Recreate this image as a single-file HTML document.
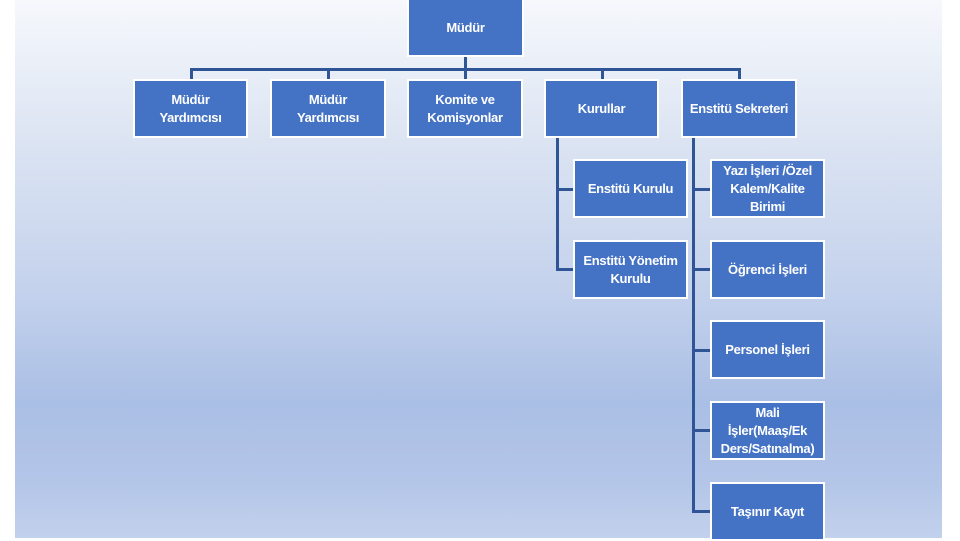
<!DOCTYPE html>
<html><head><meta charset="utf-8"><style>
body{margin:0;width:960px;height:540px;background:#fff;position:relative;overflow:hidden;font-family:"Liberation Sans",sans-serif}
#bg{position:absolute;left:15px;top:0;width:927px;height:538px;background:linear-gradient(to bottom,#f6f8fc 0%,#dde5f3 25%,#c3d1ec 55%,#aabfe5 75%,#b4c6e8 90%,#c2d1ec 100%)}
.b{position:absolute;box-sizing:border-box;background:#4472c4;border:2px solid #fff;color:#fff;font-weight:bold;font-size:13px;line-height:18px;display:flex;align-items:center;justify-content:center;text-align:center;letter-spacing:-0.3px}
.l{position:absolute;background:#2f5597}
</style></head><body>
<div id="bg"></div>
<div class="l" style="left:464px;top:55px;width:3px;height:26px"></div>
<div class="l" style="left:190px;top:68px;width:551px;height:3px"></div>
<div class="l" style="left:190px;top:68px;width:3px;height:13px"></div>
<div class="l" style="left:327px;top:68px;width:3px;height:13px"></div>
<div class="l" style="left:601px;top:68px;width:3px;height:13px"></div>
<div class="l" style="left:738px;top:68px;width:3px;height:13px"></div>
<div class="l" style="left:556px;top:136px;width:3px;height:135px"></div>
<div class="l" style="left:556px;top:188px;width:20px;height:3px"></div>
<div class="l" style="left:556px;top:268px;width:20px;height:3px"></div>
<div class="l" style="left:692px;top:136px;width:3px;height:377px"></div>
<div class="l" style="left:692px;top:188px;width:20px;height:3px"></div>
<div class="l" style="left:692px;top:268px;width:20px;height:3px"></div>
<div class="l" style="left:692px;top:349px;width:20px;height:3px"></div>
<div class="l" style="left:692px;top:429px;width:20px;height:3px"></div>
<div class="l" style="left:692px;top:510px;width:20px;height:3px"></div>
<div class="b" style="left:407px;top:-2px;width:117px;height:59px">Müdür</div>
<div class="b" style="left:133px;top:79px;width:115px;height:59px">Müdür<br>Yardımcısı</div>
<div class="b" style="left:270px;top:79px;width:116px;height:59px">Müdür<br>Yardımcısı</div>
<div class="b" style="left:407px;top:79px;width:116px;height:59px">Komite ve<br>Komisyonlar</div>
<div class="b" style="left:544px;top:79px;width:115px;height:59px">Kurullar</div>
<div class="b" style="left:681px;top:79px;width:116px;height:59px">Enstitü Sekreteri</div>
<div class="b" style="left:573px;top:159px;width:115px;height:59px">Enstitü Kurulu</div>
<div class="b" style="left:573px;top:240px;width:115px;height:59px">Enstitü Yönetim<br>Kurulu</div>
<div class="b" style="left:710px;top:159px;width:115px;height:59px">Yazı İşleri /Özel<br>Kalem/Kalite<br>Birimi</div>
<div class="b" style="left:710px;top:240px;width:115px;height:59px">Öğrenci İşleri</div>
<div class="b" style="left:710px;top:320px;width:115px;height:59px">Personel İşleri</div>
<div class="b" style="left:710px;top:401px;width:115px;height:59px">Mali<br>İşler(Maaş/Ek<br>Ders/Satınalma)</div>
<div class="b" style="left:710px;top:482px;width:115px;height:59px">Taşınır Kayıt</div>
</body></html>
